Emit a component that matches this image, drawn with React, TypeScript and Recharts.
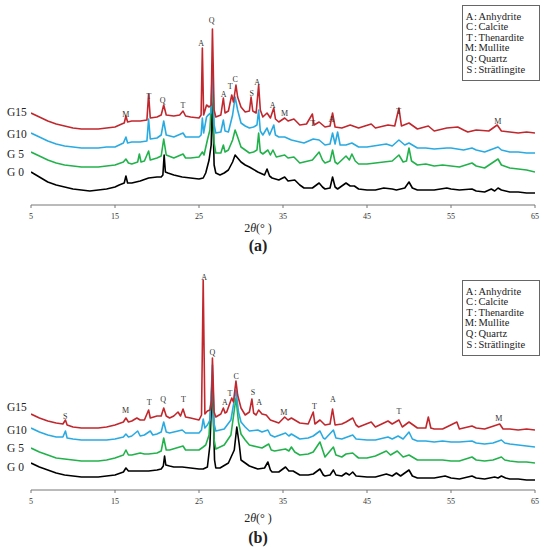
import React from 'react';
import { LineChart, Line, XAxis, YAxis, Scatter } from 'recharts';

type P = [number, number];

// ---------- Panel (a) ----------
const a_G15: P[] = [[5,92],[6,88],[7,84],[8,81],[9,79],[10,77],[11,76],[12,76],[13,76],[14,77],[15,78],[15.8,81],[16.1,82],[16.3,89],[16.5,83],[17,84],[18,84],[18.8,85],[19.0,111],[19.2,87],[20,88],[20.5,90],[20.8,100],[21.1,90],[22,89],[22.7,90],[23.1,94],[23.4,89],[24,88],[25,87],[25.25,90],[25.4,157],[25.55,90],[25.9,100],[26.2,98],[26.45,100],[26.6,176],[26.8,95],[27,88],[27.6,90],[27.9,107],[28.1,92],[28.5,94],[28.9,110],[29.1,103],[29.4,120],[29.6,108],[30,98],[30.5,93],[31,94],[31.2,108],[31.4,94],[31.8,92],[32.1,120],[32.3,95],[32.6,88],[33.1,92],[33.5,87],[33.9,97],[34.1,86],[34.5,83],[35.2,87],[35.6,84],[36.3,86],[37,80],[37.8,81],[38.5,91],[38.7,80],[39.3,83],[40,78],[40.6,79],[40.9,92],[41.2,78],[42,77],[43,80],[44,77],[45.5,81],[46,77],[47.5,80],[48.3,79],[48.8,97],[49.1,79],[50,82],[51,76],[52.3,79],[53,74],[54.5,77],[55.8,78],[56.5,75],[57,73],[58,75],[59.5,74],[60.5,80],[61,74],[62,73],[63,72],[64,73],[65,72]];
const a_G10: P[] = [[5,72],[6,68],[7,64],[8,61],[9,59],[10,58],[11,57],[12,57],[13,57],[14,58],[15,58],[16,62],[16.3,68],[16.5,62],[17,63],[18,63],[18.8,64],[19.0,86],[19.2,66],[20,67],[20.5,70],[20.8,84],[21.1,70],[22,68],[23.1,72],[23.4,68],[24,68],[25,68],[25.25,70],[25.4,87],[25.55,72],[25.9,88],[26.1,90],[26.4,92],[26.6,140],[26.8,80],[27,72],[27.6,73],[27.9,85],[28.1,74],[28.5,73],[29.0,90],[29.3,108],[29.6,95],[30,82],[30.5,79],[31,77],[31.5,78],[31.9,80],[32.1,95],[32.3,74],[32.6,70],[33.1,77],[33.4,70],[33.9,80],[34.1,70],[34.5,68],[35.2,68],[36,65],[37,63],[37.5,62],[38.6,66],[39.3,65],[40,60],[40.6,61],[40.9,72],[41.2,61],[41.5,73],[41.8,60],[42.5,60],[43.2,62],[44,58],[45,58],[47.3,61],[48,59],[48.8,65],[49.5,60],[50,62],[51,57],[52,57],[53,56],[54.5,57],[55,57],[56.5,55],[57.5,57],[58,55],[59,53],[60.6,58],[61,55],[62,53],[63,53],[64,52],[65,52]];
const a_G5: P[] = [[5,53],[6,49],[7,45],[8,42],[9,40],[10,39],[11,38],[12,38],[13,38],[14,39],[15,40],[16,43],[16.3,46],[16.6,42],[17,41],[17.7,43],[17.9,51],[18.1,43],[18.5,44],[19.0,54],[19.2,45],[20,47],[20.5,49],[20.8,66],[21.1,50],[22,47],[23.1,51],[23.4,47],[24,47],[25,48],[25.4,53],[25.6,50],[26,65],[26.3,75],[26.6,125],[26.8,62],[27,52],[27.6,52],[27.9,60],[28.1,53],[28.5,55],[29.0,65],[29.3,75],[29.6,68],[30,58],[30.5,55],[31,52],[31.5,53],[31.9,55],[32.1,72],[32.3,53],[32.6,51],[33.2,55],[33.5,50],[33.8,55],[34.2,48],[35.2,50],[35.6,47],[36.3,48],[37,42],[38.5,45],[39.3,53],[39.7,45],[40,42],[40.6,44],[40.9,55],[41.2,43],[41.5,41],[42.5,49],[42.9,45],[43.2,51],[43.6,44],[44,41],[45,41],[46,42],[47,43],[48,44],[48.8,50],[49.3,43],[49.7,44],[50,57],[50.3,44],[51,40],[52,41],[53,39],[54,40],[55,39],[56,38],[57.5,42],[58,39],[59,37],[60.6,46],[61,40],[62,37],[63,36],[64,35],[65,33]];
const a_G0: P[] = [[5,33],[6,28],[7,23],[8,20],[9,18],[10,16],[11,15],[12,14],[13,15],[14,16],[15,18],[15.5,20],[16.1,22],[16.3,29],[16.5,22],[17,22],[18,24],[19,27],[20,28],[20.5,28],[20.7,30],[20.85,50],[21.0,33],[21.3,32],[22,30],[23,28],[24,27],[25,26],[25.5,27],[25.8,32],[26.2,45],[26.45,60],[26.6,110],[26.8,40],[27,32],[27.5,30],[28,32],[28.5,35],[29,43],[29.3,50],[29.6,47],[30,43],[30.5,40],[31,38],[32,33],[32.8,30],[33.1,36],[33.4,29],[33.7,27],[34.5,25],[35.2,28],[35.6,24],[36.4,25],[37,20],[37.5,17],[38.5,17],[39.3,22],[39.7,18],[40,16],[40.6,17],[40.9,28],[41.2,18],[41.5,16],[42.5,22],[43,19],[43.5,19],[44,16],[45,15],[46,15],[47,17],[48,16],[48.5,15],[49.5,17],[50,23],[50.4,17],[51,15],[52,15],[53,15],[54.5,17],[55,16],[56,15],[57.5,16],[58,14],[59,13],[59.8,16],[60.2,14],[60.6,17],[61,15],[62,13],[63,13],[64,12],[65,12]];

const a_peakLabels: [number, number, string][] = [[16.3,91,'M'],[19.05,109,'T'],[20.67,105,'Q'],[23.08,100,'T'],[25.24,162,'A'],[26.5,185,'Q'],[27.94,111,'A'],[28.7,119,'T'],[29.3,126,'C'],[31.27,112,'S'],[31.93,123,'A'],[33.77,100,'A'],[35.2,92,'M'],[38.54,82,'T'],[40.75,86,'A'],[48.77,94,'T'],[60.57,84,'M']];
const a_seriesLabelY = [93, 71, 51, 33];

// ---------- Panel (b) ----------
const b_G15: P[] = [[5,76],[6,72],[7,69],[8,67],[8.8,66],[9.1,70],[9.3,65],[10,63],[11,62],[12,62],[13,62],[14,63],[15,65],[16,68],[16.3,72],[16.6,68],[17,69],[17.6,72],[18,70],[18.5,70],[19.0,80],[19.2,72],[20,74],[20.5,74],[20.8,82],[21.1,74],[21.5,72],[22,74],[22.5,78],[22.8,74],[23.1,81],[23.4,73],[24,72],[25,70],[25.3,75],[25.5,210],[25.7,76],[26,79],[26.3,80],[26.5,90],[26.6,132],[26.8,78],[27,73],[27.6,76],[27.9,82],[28.1,77],[28.3,78],[28.9,92],[29.1,88],[29.4,109],[29.6,95],[30,82],[30.5,75],[31,78],[31.3,91],[31.5,77],[31.8,75],[32.1,80],[32.5,76],[33,75],[33.5,70],[34.5,67],[35.2,73],[35.6,70],[36,72],[37,67],[38,66],[38.6,78],[38.8,66],[39.4,70],[40,65],[40.6,66],[40.9,81],[41.2,65],[42,66],[42.5,68],[43.3,72],[43.7,65],[44,63],[45.5,68],[46,63],[47.5,69],[48,66],[48.8,70],[49.2,63],[50,68],[51,62],[52,62],[52.3,73],[52.6,62],[53,61],[54,61],[55.7,68],[56,61],[57.5,64],[58,62],[59,61],[60.8,66],[61.2,61],[62,61],[63,60],[64,61],[65,60]];
const b_G10: P[] = [[5,62],[6,58],[7,55],[8,53],[8.8,53],[9.1,59],[9.3,52],[10,51],[11,50],[12,50],[13,50],[14,50],[15,51],[16,53],[16.3,56],[16.6,53],[17,54],[17.7,59],[18,54],[18.5,55],[19.2,59],[19.5,55],[20,56],[20.5,58],[20.8,68],[21.1,58],[21.5,57],[23,60],[23.4,57],[24,57],[25,57],[25.3,60],[25.5,71],[25.7,62],[26,65],[26.3,70],[26.6,125],[26.8,66],[27,59],[28,61],[28.8,70],[29.4,100],[29.7,78],[30,68],[30.5,63],[31,59],[32,60],[32.5,58],[33.2,60],[33.5,55],[34,53],[35.3,57],[35.7,54],[36,56],[37,51],[38,52],[38.6,54],[39.4,59],[39.8,52],[40,51],[41,60],[41.3,52],[42,51],[43.3,55],[43.7,51],[45,50],[46,50],[47.5,53],[48,51],[48.7,54],[49.3,51],[50,58],[50.4,51],[51,49],[52,49],[53,48],[54,49],[55,48],[56,48],[57.5,49],[58,47],[59,46],[60,47],[61,50],[61.4,47],[62,46],[63,45],[64,44],[65,43]];
const b_G5: P[] = [[5,42],[6,38],[7,35],[8,32],[9,31],[10,30],[11,29],[12,29],[13,29],[14,30],[15,32],[16,35],[16.3,40],[16.6,35],[17,35],[18,37],[18.5,36],[19,36],[20,37],[20.5,39],[20.8,52],[21.1,40],[21.5,40],[23.1,44],[23.4,40],[24,40],[25,40],[25.5,43],[25.8,45],[26.2,55],[26.6,115],[26.8,50],[27,41],[28,45],[28.8,55],[29.4,92],[29.7,68],[30,56],[30.5,50],[31,45],[32,43],[32.5,42],[33.3,46],[33.6,40],[34,39],[35.3,41],[35.7,39],[36,43],[36.4,38],[37,35],[38,36],[38.6,38],[39.4,48],[39.8,38],[40,33],[41,43],[41.3,35],[42,33],[42.5,36],[43.3,37],[43.7,34],[44,32],[45,32],[46,34],[47.3,39],[47.8,35],[48.6,39],[49.3,33],[50,35],[51,30],[52,30],[53,30],[54,30],[55,29],[56,29],[57.5,33],[58,30],[59,29],[60,30],[61,33],[61.4,30],[62,29],[63,28],[64,28],[65,27]];
const b_G0: P[] = [[5,27],[6,23],[7,20],[8,17],[9,15],[10,14],[11,13],[12,13],[13,13],[14,14],[15,15],[16,18],[16.3,22],[16.6,19],[17,19],[18,19],[19,19],[20,20],[20.5,21],[20.75,24],[20.9,34],[21.05,25],[21.5,24],[22,23],[23,23],[24,22],[25,21],[25.5,21],[26,23],[26.3,45],[26.6,110],[26.85,30],[27,22],[27.5,22],[28.5,27],[29.2,40],[29.5,63],[29.8,45],[30,30],[30.5,27],[31,24],[32,21],[32.8,22],[33.2,28],[33.5,20],[33.7,18],[34.5,18],[35.3,23],[35.7,19],[36.2,19],[37,15],[38,15],[38.6,16],[39.4,21],[39.8,15],[40,14],[40.6,15],[41,20],[41.3,15],[42,14],[42.5,17],[42.9,15],[43.3,18],[43.7,14],[45,13],[46,13],[47.3,16],[48,14],[48.5,17],[49,14],[50,20],[50.4,14],[51,12],[52,12],[53,12],[54.3,14],[55,12],[56,11],[57.5,14],[58,12],[59,11],[60.2,13],[60.6,12],[61,14],[61.5,12],[62,11],[63,11],[64,10],[65,10]];

const b_peakLabels: [number, number, string][] = [[9.06,74,'S'],[16.26,80,'M'],[19.08,88,'T'],[20.74,91,'Q'],[23.14,91,'T'],[25.6,213,'A'],[26.6,138,'Q'],[28.07,88,'A'],[28.69,97,'T'],[29.43,114,'C'],[31.42,98,'S'],[32.17,88,'A'],[35.1,78,'M'],[38.75,84,'T'],[40.94,91,'A'],[48.81,79,'T'],[60.69,72,'M']];
const b_seriesLabelY = [83, 60, 42, 23];

// ---------- shared ----------
const seriesNames = ['G15', 'G10', 'G 5', 'G 0'];
const seriesColors = ['#c1272d', '#29abe2', '#22b24c', '#000000'];
const xTicks = [5, 15, 25, 35, 45, 55, 65];
const legendKeys = ['A', 'C', 'T', 'M', 'Q', 'S'];
const legendNames = ['Anhydrite', 'Calcite', 'Thenardite', 'Mullite', 'Quartz', 'Strätlingite'];

const FONT = '"Liberation Serif", "DejaVu Serif", serif';

const toRows = (arr: P[]) => arr.map(([x, y]) => ({ x, y }));

interface PanelProps {
  series: P[][];
  peaks: [number, number, string][];
  labelY: number[];
  yMax: number;
  height: number;
  top: number;
  bottomMargin: number;
}

const Panel = ({ series, peaks, labelY, yMax, height, top, bottomMargin }: PanelProps) => {
  const peakRows = peaks.map(([x, y, t]) => ({ x, y, t }));
  const drawOrder = [3, 2, 1, 0];
  const nameTick = (props: any) => {
    const idx = labelY.indexOf(props.payload.value);
    return (
      <text x={7} y={props.y} dominantBaseline="central" fontSize={11.5} fontFamily={FONT} fill="#222">
        {seriesNames[idx]}
      </text>
    );
  };
  const peakShape = (props: any) => (
    <text
      x={props.cx}
      y={props.cy}
      textAnchor="middle"
      dominantBaseline="central"
      fontSize={8}
      fontFamily={FONT}
      fill="#333"
      stroke="none"
      style={{ fill: '#333', stroke: 'none' }}
    >
      {props.payload.t}
    </text>
  );
  return (
    <div style={{ position: 'absolute', left: 0, top }}>
      <LineChart width={550} height={height} margin={{ top: height - bottomMargin - 20 - yMax, right: 15, bottom: bottomMargin, left: 0 }}>
        <XAxis
          type="number"
          dataKey="x"
          domain={[5, 65]}
          ticks={xTicks}
          allowDataOverflow
          height={20}
          stroke="#777"
          tickSize={3}
          tickMargin={5}
          tick={{ fontSize: 8, fontFamily: FONT, fill: '#333' }}
        />
        <YAxis
          type="number"
          dataKey="y"
          domain={[0, yMax]}
          width={31}
          ticks={labelY}
          axisLine={false}
          tickLine={false}
          tick={nameTick}
          interval={0}
        />
        {drawOrder.map((i) => (
          <Line
            key={seriesNames[i]}
            data={toRows(series[i])}
            dataKey="y"
            type="linear"
            stroke={seriesColors[i]}
            strokeWidth={1.6}
            strokeLinejoin="round"
            dot={false}
            isAnimationActive={false}
          />
        ))}
        <Scatter data={peakRows} dataKey="y" fill="#333" shape={peakShape} isAnimationActive={false} />
      </LineChart>
    </div>
  );
};

const LegendBox = ({ top }: { top: number }) => (
  <svg style={{ position: 'absolute', left: 462, top }} width={78} height={76}>
    <rect x={0.5} y={0.5} width={77} height={75} fill="#fff" stroke="#666" strokeWidth={1} />
    {legendKeys.map((k, i) => (
      <g key={k} fontFamily={FONT} fontSize={10.5} fill="#222">
        <text x={7.5} y={11 + i * 10.6} textAnchor="middle" dominantBaseline="central">{k}</text>
        <text x={12} y={11 + i * 10.6} dominantBaseline="central">:</text>
        <text x={16.5} y={11 + i * 10.6} dominantBaseline="central">{legendNames[i]}</text>
      </g>
    ))}
  </svg>
);

const Caption = ({ top, text, bold }: { top: number; text: React.ReactNode; bold?: boolean }) => (
  <div
    style={{
      position: 'absolute',
      left: 158,
      width: 200,
      top,
      textAlign: 'center',
      fontFamily: FONT,
      fontSize: bold ? 16 : 12,
      fontWeight: bold ? 'bold' : 'normal',
      lineHeight: '16px',
      color: '#222',
    }}
  >
    {text}
  </div>
);

const AxisTitle = () => (
  <span>
    2<i>θ</i>(° )
  </span>
);

export default function App() {
  return (
    <div style={{ position: 'absolute', left: 0, top: 0, width: 550, height: 549, background: '#fff', overflow: 'hidden' }}>
      <Panel series={[a_G15, a_G10, a_G5, a_G0]} peaks={a_peakLabels} labelY={a_seriesLabelY} yMax={200} height={275} top={0} bottomMargin={50} />
      <Panel series={[b_G15, b_G10, b_G5, b_G0]} peaks={b_peakLabels} labelY={b_seriesLabelY} yMax={222} height={289} top={260} bottomMargin={39} />
      <LegendBox top={5} />
      <LegendBox top={280} />
      <Caption top={220} text={<AxisTitle />} />
      <Caption top={238} text="(a)" bold />
      <Caption top={510} text={<AxisTitle />} />
      <Caption top={530} text="(b)" bold />
    </div>
  );
}
